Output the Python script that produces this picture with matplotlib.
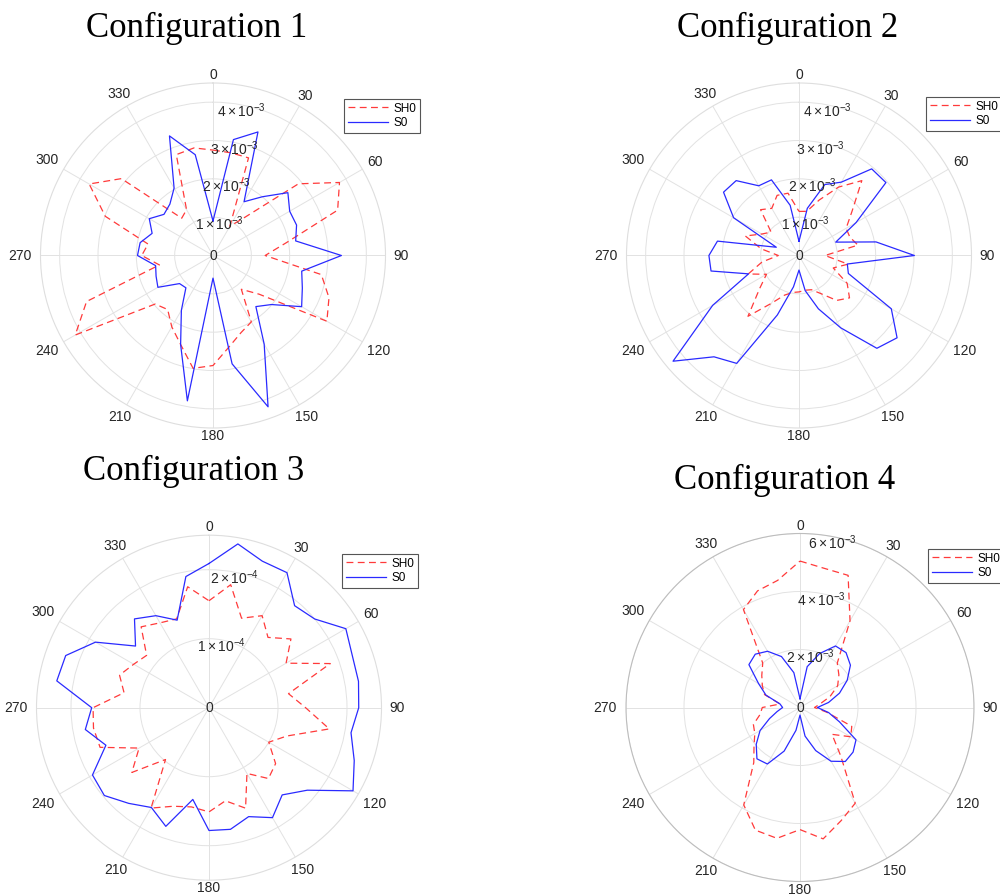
import numpy as np
import matplotlib
matplotlib.use("Agg")
import matplotlib.pyplot as plt

plt.rcParams["font.family"] = ["Liberation Sans", "DejaVu Sans"]
plt.rcParams["mathtext.fontset"] = "custom"
plt.rcParams["mathtext.rm"] = "Liberation Sans"
plt.rcParams["mathtext.it"] = "Liberation Sans:italic"

# Propagation angles (deg), one sample every 10 degrees
angles_deg = list(range(0, 360, 10))

# Configuration 1 amplitudes (x 1e-3)
cfg1_sh0 = [2.75, 2.72, 2.71, 0.88, 1.31, 2.91, 3.81, 3.46, 1.95, 1.36, 2.87, 3.22,
            3.43, 1.57, 1.15, 2.00, 2.14, 2.42, 2.87, 2.99, 2.47, 2.15, 1.84, 1.97,
            4.15, 3.51, 1.42, 1.86, 1.72, 2.99, 3.73, 3.12, 1.27, 1.38, 2.80, 2.85]
cfg1_s0 = [0.90, 3.07, 3.43, 1.62, 2.00, 2.55, 2.31, 2.32, 2.19, 3.35, 2.35, 2.48,
           2.67, 1.99, 1.74, 2.67, 4.20, 2.87, 0.59, 3.85, 2.47, 1.65, 1.10, 1.14,
           1.66, 1.58, 1.52, 1.97, 1.93, 1.69, 1.92, 1.67, 1.75, 2.03, 3.32, 2.67]

# Configuration 2 amplitudes (x 1e-3)
cfg2_sh0 = [1.15, 1.17, 1.54, 2.06, 2.55, 1.81, 1.42, 1.41, 1.56, 0.68, 1.30, 0.95,
            1.45, 1.72, 1.53, 1.15, 0.95, 0.92, 0.95, 0.98, 1.10, 1.44, 2.07, 1.34,
            0.98, 1.41, 0.98, 0.54, 1.00, 1.49, 1.12, 0.95, 1.56, 1.42, 1.67, 1.65]
cfg2_s0 = [0.37, 1.25, 1.97, 2.21, 2.95, 2.96, 1.72, 1.02, 2.04, 3.01, 1.28, 1.37,
           2.78, 3.34, 3.16, 2.18, 1.48, 0.93, 0.38, 0.83, 1.65, 3.25, 3.45, 4.29,
           2.60, 1.40, 2.33, 2.35, 2.16, 0.63, 1.97, 2.57, 2.55, 2.10, 2.10, 1.33]

# Configuration 3 amplitudes (x 1e-4)
cfg3_sh0 = [1.55, 1.81, 1.38, 1.54, 1.33, 1.55, 1.29, 1.87, 1.17, 1.40, 1.77, 1.20,
            1.00, 1.26, 1.34, 1.10, 1.55, 1.37, 1.51, 1.46, 1.52, 1.68, 0.98, 1.46,
            1.17, 1.68, 1.70, 1.68, 1.25, 1.38, 1.26, 1.18, 1.53, 1.42, 1.37, 1.78]
cfg3_s0 = [2.09, 2.41, 2.26, 2.26, 1.93, 2.00, 2.29, 2.21, 2.20, 2.17, 2.09, 2.24,
           2.41, 1.86, 1.65, 1.84, 1.68, 1.79, 1.78, 1.35, 1.83, 1.67, 1.81, 1.98,
           1.95, 1.59, 1.82, 1.70, 2.24, 2.21, 1.90, 1.39, 1.68, 1.54, 1.35, 1.93]

# Configuration 4 amplitudes (x 1e-3)
cfg4_sh0 = [5.05, 4.87, 4.85, 3.45, 2.00, 1.75, 1.50, 1.10, 0.70, 0.50, 0.94, 1.90,
            2.02, 1.44, 2.19, 3.81, 4.15, 4.60, 4.21, 4.58, 4.50, 3.88, 2.48, 2.07,
            1.80, 1.71, 1.40, 1.30, 0.70, 1.30, 1.50, 1.72, 2.00, 3.90, 4.28, 4.45]
cfg4_s0 = [0.30, 1.43, 1.98, 2.45, 2.47, 2.27, 1.88, 1.45, 1.00, 0.60, 1.00, 1.45,
           2.23, 2.39, 2.43, 2.14, 1.58, 1.00, 0.26, 0.80, 1.60, 2.25, 2.31, 1.97,
           1.59, 1.12, 0.80, 0.60, 0.70, 1.25, 1.65, 2.30, 2.40, 2.24, 1.87, 1.22]

titles = ["Configuration 1", "Configuration 2", "Configuration 3", "Configuration 4"]
series_labels = ["SH0", "S0"]
angle_ticks = list(range(0, 360, 30))

panels = [
    dict(sh0=cfg1_sh0, s0=cfg1_s0, unit=1e-3, exp=-3, rticks=[1, 2, 3, 4], rmax=4.5,
         cx=213, cy=255.5, R=172.5, title_xy=(197, 37), leg_xy=(344, 99), edge="#dedede"),
    dict(sh0=cfg2_sh0, s0=cfg2_s0, unit=1e-3, exp=-3, rticks=[1, 2, 3, 4], rmax=4.5,
         cx=799, cy=255.5, R=172.5, title_xy=(788, 37), leg_xy=(926, 97), edge="#dedede"),
    dict(sh0=cfg3_sh0, s0=cfg3_s0, unit=1e-4, exp=-4, rticks=[1, 2], rmax=2.5,
         cx=209, cy=707.7, R=172.5, title_xy=(194, 480), leg_xy=(342, 554), edge="#dedede"),
    dict(sh0=cfg4_sh0, s0=cfg4_s0, unit=1e-3, exp=-3, rticks=[2, 4, 6], rmax=6.0,
         cx=800, cy=707.5, R=174, title_xy=(785, 489), leg_xy=(928, 549), edge="#bdbdbd"),
]

W, H = 1000, 896
fig = plt.figure(figsize=(W / 100, H / 100), dpi=100)
PT = 0.72  # points per pixel at 100 dpi
text_col = "#262626"

theta = np.deg2rad(angles_deg + [360])

for i, p in enumerate(panels):
    cx, cy, R = p["cx"], p["cy"], p["R"]
    ax = fig.add_axes([(cx - R) / W, (H - cy - R) / H, 2 * R / W, 2 * R / H],
                      projection="polar")
    ax.set_theta_zero_location("N")
    ax.set_theta_direction(-1)
    unit = p["unit"]
    rmax = p["rmax"] * unit

    sh0 = np.array(p["sh0"] + [p["sh0"][0]]) * unit
    s0 = np.array(p["s0"] + [p["s0"][0]]) * unit
    l1, = ax.plot(theta, sh0, color="#ff3a3a", lw=0.9, linestyle=(0, (5.5, 3.5)),
                  label=series_labels[0])
    l2, = ax.plot(theta, s0, color="#2a2aff", lw=0.9, label=series_labels[1])

    ax.set_ylim(0, rmax)
    ax.set_yticks([t * unit for t in p["rticks"]])
    ax.set_yticklabels([])
    ax.set_xticks(np.deg2rad(angle_ticks))
    ax.set_xticklabels([])
    ax.tick_params(length=0)
    ax.grid(True, color="#e2e2e2", lw=0.7)
    ax.spines["polar"].set_color(p["edge"])
    ax.spines["polar"].set_linewidth(0.8)

    # angular labels around the rim
    for deg in angle_ticks:
        th = np.deg2rad(deg)
        s = str(deg)
        k = {1: 0, 2: 8, 3: 13}[len(s)]
        off = 8 + k * abs(np.sin(th))
        ax.annotate(s, xy=(th, rmax), xycoords="data",
                    xytext=(off * np.sin(th) * PT, off * np.cos(th) * PT),
                    textcoords="offset points", ha="center", va="center",
                    fontsize=10, color=text_col, annotation_clip=False)

    # radial labels along the 11 degree line
    ra = np.deg2rad(11)
    for t in p["rticks"]:
        lab = r"$%d\times10^{%d}$" % (t, p["exp"])
        ax.annotate(lab, xy=(ra, t * unit), xycoords="data",
                    xytext=(-6 * np.sin(ra) * PT, -6 * np.cos(ra) * PT),
                    textcoords="offset points", ha="center", va="center",
                    fontsize=10, color=text_col, annotation_clip=False)
    ax.annotate("0", xy=(0, 0), xycoords="data", ha="center", va="center",
                fontsize=10, color=text_col, annotation_clip=False)

    lx, ly = p["leg_xy"]
    leg = ax.legend(handles=[l1, l2], loc="upper left",
                    bbox_to_anchor=(lx / W, 1 - ly / H), bbox_transform=fig.transFigure,
                    fontsize=8.5, handlelength=3.4, handletextpad=0.5,
                    borderpad=0.3, labelspacing=0.25, borderaxespad=0,
                    fancybox=False, framealpha=1)
    leg.get_frame().set_edgecolor("#555555")
    leg.get_frame().set_linewidth(0.8)

    tx, ty = p["title_xy"]
    fig.text(tx / W, 1 - ty / H, titles[i], ha="center", va="baseline",
             fontsize=25, family="Liberation Serif", color="black")

fig.savefig("out.png", dpi=100)
